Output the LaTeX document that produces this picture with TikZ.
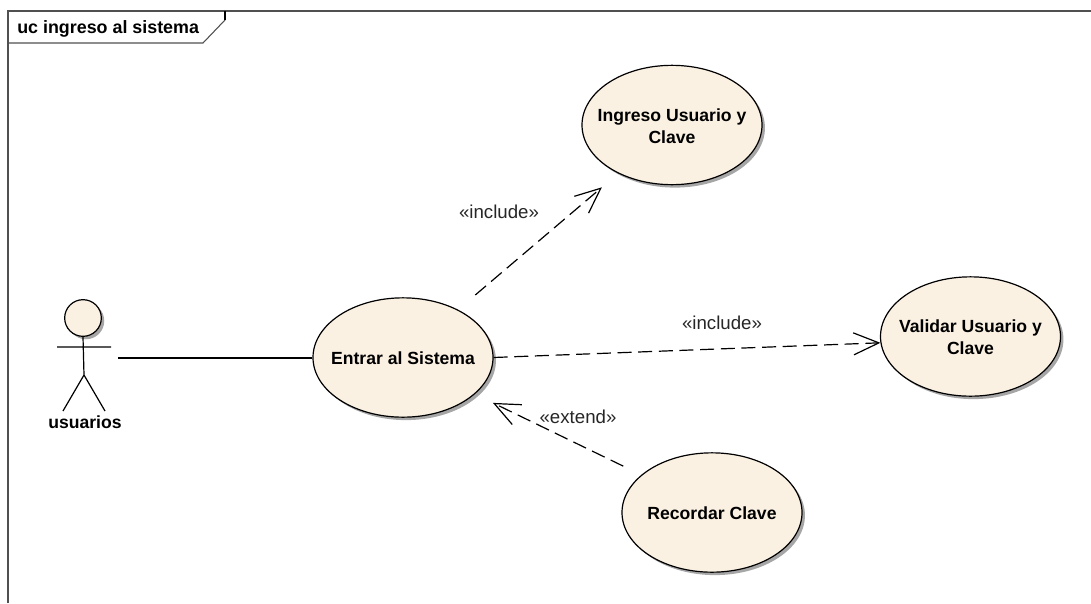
\documentclass[tikz,border=0pt]{standalone}
\usepackage{fontspec}
\setmainfont{Liberation Sans}
\usetikzlibrary{arrows.meta,shapes.geometric,shadows}
\definecolor{ucfill}{HTML}{FBF1E3}
\definecolor{framegray}{HTML}{505050}
\newcommand{\uctext}[1]{\raisebox{-5.3pt}[0pt][0pt]{\makebox[0pt]{\begin{tabular}{@{}c@{}}#1\end{tabular}}}}
\begin{document}
\begin{tikzpicture}[
        x=0.75pt, y=-0.75pt,
        usecase/.style={draw, ellipse, fill=ucfill, line width=0.9pt, inner sep=0pt,
            minimum width=135pt, minimum height=89.5pt,
            font=\bfseries\fontsize{13.2}{16.5}\selectfont,
            drop shadow={shadow xshift=2.2pt, shadow yshift=-2.2pt, fill=black!35, opacity=1}},
        head/.style={draw, circle, fill=ucfill, line width=0.9pt, minimum size=27.5pt, inner sep=0pt,
            drop shadow={shadow xshift=2.2pt, shadow yshift=-2.2pt, fill=black!35, opacity=1}},
        stereo/.style={font=\fontsize{14}{16}\selectfont, text=black!85, inner sep=0pt},
        assoc/.style={line width=0.9pt},
        depend/.style={line width=0.9pt, dash pattern=on 10.5pt off 5pt, -{Straight Barb[length=19pt, width=16.5pt, line width=0.9pt]}},
    ]
    \useasboundingbox (0,0) rectangle (1091,603);
    % frame
    \draw[framegray, line width=0.8pt] (8,603) -- (8,11) -- (1091,11);
    \node[anchor=west, inner sep=0pt, font=\bfseries\fontsize{13.4}{15}\selectfont] (title) at (17,29) {uc ingreso al sistema};
    \draw[framegray, line width=0.8pt] (8,43) -- (203,43) -- (225,20);
    \draw[black, line width=0.8pt] (225,20) -- (225,11);

    % use cases
    \node[usecase] (ingreso) at (672,125) {\uctext{Ingreso Usuario y\\Clave}};
    \node[usecase] (entrar) at (403,357.5) {\uctext{Entrar al Sistema}};
    \node[usecase] (validar) at (970.5,336.5) {\uctext{Validar Usuario y\\Clave}};
    \node[usecase] (recordar) at (712,512.5) {\uctext{Recordar Clave}};

    % actor
    \node[head] (actor) at (83,318) {};
    \coordinate (hip) at (84,375);
    \coordinate (armL) at (57,347);
    \coordinate (armR) at (111,347);
    \coordinate (footL) at (63,411);
    \coordinate (footR) at (105,411);
    \coordinate (port) at (118,358);
    \draw[assoc] (actor.south) -- (hip) (armL) -- (armR) (footL) -- (hip) -- (footR);
    \node[inner sep=0pt, font=\bfseries\fontsize{13.2}{16}\selectfont] (usuarios) at (85,422) {usuarios};

    % connectors
    \draw[assoc] (port) -- (entrar.west |- port);
    \draw[depend, shorten <=17pt, shorten >=16pt] (entrar.41) -- (ingreso.222);
    \draw[depend] (entrar.0) -- (validar.184);
    \draw[depend, shorten <=15pt, shorten >=15pt] (recordar.152) -- (entrar.-27);

    \node[stereo] (incA) at (499,212) {«include»};
    \node[stereo] (incB) at (722,323) {«include»};
    \node[stereo] (ext) at (578,417) {«extend»};
\end{tikzpicture}
\end{document}
